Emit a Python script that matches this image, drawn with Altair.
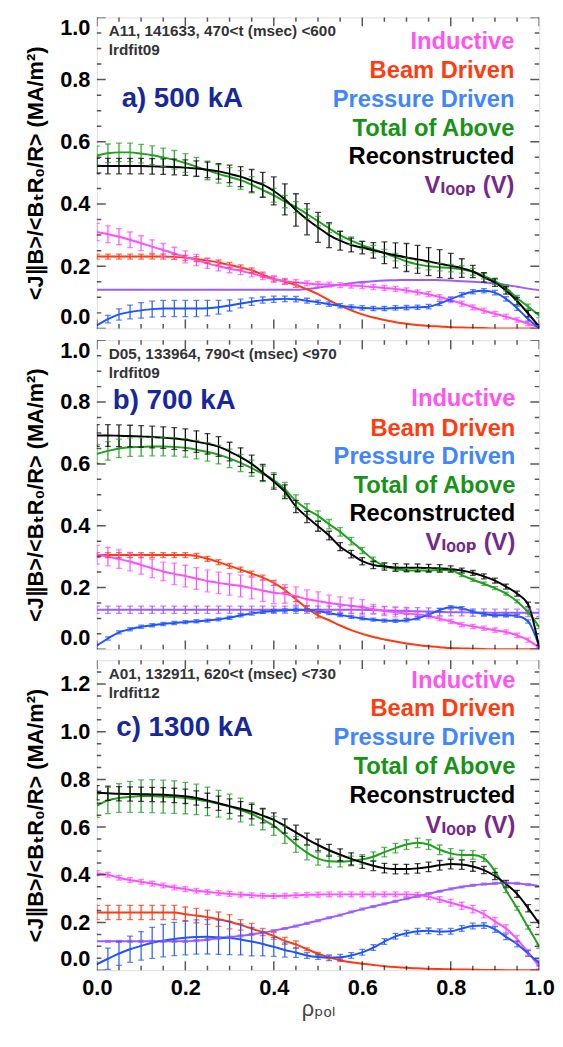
import altair as alt
import pandas as pd

FONT = "Liberation Sans, Arial, Helvetica, DejaVu Sans, sans-serif"

rho = [0.000, 0.025, 0.050, 0.075, 0.100, 0.125, 0.150, 0.175, 0.200, 0.225,
       0.250, 0.275, 0.300, 0.325, 0.350, 0.375, 0.400, 0.425, 0.450, 0.475,
       0.500, 0.525, 0.550, 0.575, 0.600, 0.625, 0.650, 0.675, 0.700, 0.725,
       0.750, 0.775, 0.800, 0.825, 0.850, 0.875, 0.900, 0.925, 0.950, 0.975, 1.000]

# drawing order (last on top)
SERIES = ["Vloop", "Beam Driven", "Inductive", "Pressure Driven", "Total of Above", "Reconstructed"]
LINE_COLORS = ["#9b5cff", "#ff3a12", "#ff4dff", "#1f55ff", "#1fa01f", "#000000"]

LEGEND_LABELS = ["Inductive", "Beam Driven", "Pressure Driven", "Total of Above", "Reconstructed", "Vₗₒₒₚ (V)"]
LEGEND_COLORS = ["#ff55ee", "#ff3c10", "#3f86ff", "#179417", "#000000", "#75298a"]

# ---------------- panel a) 500 kA ----------------
a_ind = [0.310, 0.303, 0.295, 0.285, 0.274, 0.263, 0.252, 0.241, 0.230, 0.220,
         0.209, 0.200, 0.192, 0.185, 0.177, 0.167, 0.158, 0.152, 0.148, 0.145,
         0.142, 0.141, 0.139, 0.138, 0.136, 0.133, 0.130, 0.127, 0.122, 0.116,
         0.110, 0.101, 0.091, 0.080, 0.068, 0.057, 0.047, 0.038, 0.027, 0.015, 0.003]
a_ind_err = [0.028, 0.027, 0.026, 0.025, 0.024, 0.022, 0.021, 0.020, 0.019, 0.018,
             0.016, 0.015, 0.013, 0.012, 0.011, 0.010, 0.010, 0.009, 0.009, 0.008,
             0.008, 0.008, 0.008, 0.008, 0.008, 0.008, 0.008, 0.008, 0.008, 0.008,
             0.008, 0.008, 0.008, 0.008, 0.008, 0.008, 0.008, 0.008, 0.007, 0.006, 0.005]
a_beam = [0.231, 0.231, 0.231, 0.231, 0.231, 0.231, 0.231, 0.230, 0.227, 0.223,
          0.218, 0.212, 0.204, 0.196, 0.187, 0.173, 0.160, 0.150, 0.140, 0.126,
          0.110, 0.091, 0.073, 0.058, 0.045, 0.035, 0.027, 0.020, 0.015, 0.011,
          0.008, 0.006, 0.004, 0.003, 0.002, 0.001, 0.000, 0.000, 0.000, 0.000, 0.000]
a_beam_err = [0.008, 0.008, 0.008, 0.008, 0.008, 0.008, 0.008, 0.008, 0.008, 0.008,
              0.008, 0.008, 0.008, 0.008, 0.008, 0.008, 0.008, 0.008, 0.008, 0.000,
              0.000, 0.000, 0.000, 0.000, 0.000, 0.000, 0.000, 0.000, 0.000, 0.000,
              0.000, 0.000, 0.000, 0.000, 0.000, 0.000, 0.000, 0.000, 0.000, 0.000, 0.000]
a_pres = [0.010, 0.030, 0.045, 0.053, 0.058, 0.062, 0.064, 0.064, 0.064, 0.064,
          0.065, 0.068, 0.074, 0.080, 0.086, 0.091, 0.094, 0.095, 0.094, 0.089,
          0.084, 0.078, 0.073, 0.069, 0.066, 0.064, 0.064, 0.066, 0.067, 0.068,
          0.070, 0.080, 0.094, 0.108, 0.118, 0.121, 0.115, 0.095, 0.065, 0.030, 0.000]
a_pres_err = [0.000, 0.012, 0.018, 0.022, 0.025, 0.026, 0.026, 0.026, 0.026, 0.026,
              0.025, 0.022, 0.018, 0.014, 0.012, 0.010, 0.010, 0.009, 0.009, 0.008,
              0.007, 0.007, 0.007, 0.007, 0.007, 0.007, 0.007, 0.007, 0.007, 0.007,
              0.007, 0.007, 0.007, 0.007, 0.007, 0.007, 0.007, 0.007, 0.007, 0.007, 0.007]
a_tot = [0.556, 0.563, 0.566, 0.566, 0.562, 0.557, 0.550, 0.542, 0.532, 0.520,
         0.508, 0.497, 0.487, 0.477, 0.462, 0.445, 0.428, 0.408, 0.390, 0.368,
         0.345, 0.322, 0.300, 0.282, 0.268, 0.255, 0.242, 0.229, 0.215, 0.206,
         0.200, 0.197, 0.194, 0.190, 0.182, 0.169, 0.152, 0.130, 0.098, 0.070, 0.042]
a_tot_err = [0.030, 0.030, 0.030, 0.030, 0.030, 0.030, 0.030, 0.030, 0.030, 0.030,
             0.030, 0.030, 0.030, 0.030, 0.026, 0.024, 0.022, 0.020, 0.018, 0.016,
             0.015, 0.014, 0.013, 0.012, 0.012, 0.012, 0.012, 0.012, 0.012, 0.012,
             0.012, 0.012, 0.012, 0.012, 0.011, 0.010, 0.010, 0.009, 0.008, 0.008, 0.008]
a_rec = [0.522, 0.522, 0.522, 0.522, 0.522, 0.521, 0.520, 0.519, 0.517, 0.514,
         0.510, 0.505, 0.497, 0.488, 0.475, 0.462, 0.442, 0.415, 0.381, 0.351,
         0.325, 0.300, 0.282, 0.268, 0.260, 0.251, 0.243, 0.235, 0.228, 0.222,
         0.215, 0.208, 0.201, 0.194, 0.183, 0.164, 0.147, 0.122, 0.088, 0.048, 0.005]
a_rec_err = [0.025, 0.025, 0.025, 0.025, 0.025, 0.025, 0.025, 0.025, 0.025, 0.025,
             0.025, 0.025, 0.028, 0.032, 0.036, 0.040, 0.045, 0.050, 0.052, 0.050,
             0.048, 0.040, 0.030, 0.022, 0.020, 0.025, 0.035, 0.040, 0.045, 0.045,
             0.045, 0.045, 0.040, 0.030, 0.020, 0.015, 0.012, 0.012, 0.012, 0.010, 0.008]
a_vloop = [0.124, 0.124, 0.124, 0.124, 0.124, 0.124, 0.124, 0.124, 0.124, 0.124,
           0.124, 0.124, 0.124, 0.124, 0.124, 0.124, 0.124, 0.124, 0.124, 0.127,
           0.131, 0.136, 0.140, 0.145, 0.149, 0.152, 0.154, 0.155, 0.156, 0.156,
           0.156, 0.155, 0.154, 0.152, 0.150, 0.148, 0.145, 0.140, 0.134, 0.128, 0.123]
a_vloop_err = [0.000, 0.000, 0.000, 0.000, 0.000, 0.000, 0.000, 0.000, 0.000, 0.000,
               0.000, 0.000, 0.000, 0.000, 0.000, 0.000, 0.000, 0.000, 0.000, 0.000,
               0.000, 0.000, 0.000, 0.000, 0.000, 0.000, 0.000, 0.000, 0.000, 0.000,
               0.000, 0.000, 0.000, 0.000, 0.000, 0.000, 0.000, 0.000, 0.000, 0.000, 0.000]

# ---------------- panel b) 700 kA ----------------
b_ind = [0.306, 0.300, 0.292, 0.284, 0.273, 0.262, 0.252, 0.244, 0.237, 0.229,
         0.221, 0.215, 0.210, 0.205, 0.198, 0.190, 0.183, 0.179, 0.172, 0.162,
         0.156, 0.150, 0.145, 0.141, 0.136, 0.130, 0.124, 0.120, 0.116, 0.113,
         0.108, 0.099, 0.090, 0.080, 0.074, 0.068, 0.062, 0.056, 0.045, 0.030, 0.005]
b_ind_err = [0.030, 0.030, 0.030, 0.030, 0.030, 0.030, 0.030, 0.035, 0.035, 0.035,
             0.035, 0.035, 0.035, 0.035, 0.035, 0.035, 0.035, 0.030, 0.030, 0.030,
             0.030, 0.025, 0.025, 0.025, 0.025, 0.015, 0.015, 0.015, 0.015, 0.007,
             0.007, 0.007, 0.007, 0.007, 0.007, 0.007, 0.007, 0.007, 0.007, 0.007, 0.007]
b_beam = [0.305, 0.305, 0.305, 0.305, 0.305, 0.305, 0.305, 0.305, 0.305, 0.302,
          0.293, 0.282, 0.270, 0.258, 0.245, 0.232, 0.215, 0.192, 0.162, 0.133,
          0.110, 0.094, 0.077, 0.062, 0.050, 0.040, 0.032, 0.025, 0.019, 0.014,
          0.010, 0.007, 0.004, 0.003, 0.002, 0.001, 0.000, 0.000, 0.000, 0.000, 0.000]
b_beam_err = [0.008, 0.008, 0.008, 0.008, 0.008, 0.008, 0.008, 0.008, 0.008, 0.008,
              0.008, 0.008, 0.008, 0.008, 0.008, 0.008, 0.008, 0.008, 0.008, 0.008,
              0.008, 0.000, 0.000, 0.000, 0.000, 0.000, 0.000, 0.000, 0.000, 0.000,
              0.000, 0.000, 0.000, 0.000, 0.000, 0.000, 0.000, 0.000, 0.000, 0.000, 0.000]
b_pres = [0.012, 0.035, 0.055, 0.065, 0.073, 0.078, 0.082, 0.085, 0.088, 0.091,
          0.093, 0.097, 0.102, 0.110, 0.116, 0.121, 0.124, 0.126, 0.128, 0.127,
          0.124, 0.117, 0.111, 0.105, 0.100, 0.096, 0.093, 0.092, 0.094, 0.100,
          0.112, 0.127, 0.136, 0.133, 0.122, 0.114, 0.110, 0.110, 0.108, 0.090, 0.010]
b_pres_err = [0.000, 0.005, 0.005, 0.005, 0.005, 0.005, 0.005, 0.005, 0.005, 0.005,
              0.005, 0.005, 0.005, 0.005, 0.005, 0.005, 0.005, 0.005, 0.005, 0.005,
              0.005, 0.005, 0.005, 0.005, 0.005, 0.005, 0.005, 0.005, 0.005, 0.005,
              0.005, 0.005, 0.005, 0.005, 0.005, 0.005, 0.005, 0.005, 0.005, 0.005, 0.005]
b_tot = [0.632, 0.642, 0.650, 0.654, 0.655, 0.656, 0.656, 0.655, 0.652, 0.646,
         0.639, 0.630, 0.618, 0.603, 0.586, 0.568, 0.548, 0.518, 0.480, 0.453,
         0.432, 0.405, 0.380, 0.350, 0.320, 0.290, 0.270, 0.260, 0.256, 0.255,
         0.255, 0.257, 0.256, 0.240, 0.225, 0.212, 0.198, 0.180, 0.155, 0.120, 0.072]
b_tot_err = [0.030, 0.030, 0.030, 0.030, 0.030, 0.030, 0.030, 0.030, 0.030, 0.030,
             0.030, 0.030, 0.030, 0.028, 0.026, 0.025, 0.024, 0.022, 0.020, 0.018,
             0.016, 0.015, 0.014, 0.012, 0.010, 0.008, 0.008, 0.008, 0.006, 0.006,
             0.006, 0.006, 0.005, 0.005, 0.005, 0.005, 0.005, 0.005, 0.005, 0.005, 0.005]
b_rec = [0.692, 0.692, 0.691, 0.690, 0.689, 0.687, 0.685, 0.682, 0.678, 0.672,
         0.665, 0.656, 0.640, 0.622, 0.600, 0.572, 0.542, 0.510, 0.462, 0.428,
         0.398, 0.368, 0.332, 0.308, 0.285, 0.273, 0.268, 0.265, 0.264, 0.264,
         0.263, 0.262, 0.260, 0.255, 0.247, 0.236, 0.222, 0.203, 0.180, 0.145, 0.005]
b_rec_err = [0.035, 0.035, 0.035, 0.035, 0.035, 0.035, 0.035, 0.035, 0.035, 0.035,
             0.033, 0.032, 0.030, 0.030, 0.028, 0.026, 0.024, 0.022, 0.020, 0.018,
             0.016, 0.014, 0.013, 0.012, 0.012, 0.012, 0.012, 0.012, 0.012, 0.012,
             0.012, 0.012, 0.010, 0.008, 0.008, 0.008, 0.008, 0.008, 0.008, 0.008, 0.008]
b_vloop = [0.128, 0.128, 0.128, 0.128, 0.128, 0.128, 0.128, 0.128, 0.128, 0.128,
           0.128, 0.128, 0.128, 0.128, 0.128, 0.128, 0.128, 0.128, 0.128, 0.128,
           0.128, 0.128, 0.128, 0.128, 0.128, 0.127, 0.126, 0.125, 0.124, 0.123,
           0.122, 0.121, 0.120, 0.120, 0.119, 0.119, 0.118, 0.118, 0.118, 0.118, 0.118]
b_vloop_err = [0.012, 0.012, 0.012, 0.012, 0.012, 0.012, 0.012, 0.012, 0.012, 0.012,
               0.012, 0.012, 0.012, 0.012, 0.012, 0.012, 0.012, 0.012, 0.012, 0.012,
               0.012, 0.012, 0.012, 0.012, 0.012, 0.012, 0.012, 0.012, 0.012, 0.012,
               0.012, 0.012, 0.012, 0.012, 0.012, 0.012, 0.012, 0.012, 0.012, 0.012, 0.012]

# ---------------- panel c) 1300 kA ----------------
c_ind = [0.407, 0.400, 0.388, 0.378, 0.371, 0.363, 0.355, 0.347, 0.340, 0.333,
         0.328, 0.324, 0.320, 0.317, 0.314, 0.312, 0.311, 0.312, 0.314, 0.316,
         0.317, 0.318, 0.318, 0.318, 0.318, 0.318, 0.318, 0.318, 0.318, 0.316,
         0.308, 0.296, 0.283, 0.270, 0.256, 0.235, 0.205, 0.175, 0.130, 0.075, 0.015]
c_ind_err = [0.010, 0.010, 0.010, 0.010, 0.010, 0.010, 0.010, 0.010, 0.010, 0.010,
             0.010, 0.010, 0.010, 0.010, 0.010, 0.010, 0.010, 0.010, 0.010, 0.010,
             0.010, 0.010, 0.010, 0.010, 0.010, 0.010, 0.010, 0.010, 0.010, 0.010,
             0.012, 0.012, 0.014, 0.015, 0.016, 0.016, 0.016, 0.016, 0.015, 0.012, 0.010]
c_beam = [0.242, 0.242, 0.242, 0.242, 0.242, 0.242, 0.242, 0.242, 0.235, 0.229,
          0.222, 0.214, 0.203, 0.190, 0.174, 0.160, 0.144, 0.123, 0.108, 0.088,
          0.069, 0.054, 0.042, 0.033, 0.027, 0.022, 0.017, 0.013, 0.010, 0.008,
          0.006, 0.005, 0.004, 0.003, 0.002, 0.001, 0.001, 0.000, 0.000, 0.000, 0.000]
c_beam_err = [0.030, 0.030, 0.030, 0.030, 0.030, 0.030, 0.030, 0.030, 0.030, 0.030,
              0.030, 0.030, 0.030, 0.022, 0.022, 0.015, 0.015, 0.015, 0.015, 0.006,
              0.006, 0.006, 0.006, 0.000, 0.000, 0.000, 0.000, 0.000, 0.000, 0.000,
              0.000, 0.000, 0.000, 0.000, 0.000, 0.000, 0.000, 0.000, 0.000, 0.000, 0.000]
c_pres = [0.025, 0.048, 0.070, 0.088, 0.102, 0.115, 0.124, 0.131, 0.136, 0.139,
          0.140, 0.138, 0.135, 0.129, 0.120, 0.110, 0.098, 0.085, 0.074, 0.062,
          0.055, 0.052, 0.054, 0.062, 0.075, 0.095, 0.120, 0.142, 0.155, 0.163,
          0.165, 0.161, 0.163, 0.175, 0.185, 0.187, 0.171, 0.140, 0.110, 0.070, 0.030]
c_pres_err = [0.000, 0.045, 0.050, 0.055, 0.060, 0.065, 0.068, 0.070, 0.072, 0.072,
              0.072, 0.072, 0.070, 0.065, 0.060, 0.050, 0.040, 0.030, 0.020, 0.012,
              0.010, 0.012, 0.012, 0.012, 0.012, 0.012, 0.012, 0.012, 0.012, 0.012,
              0.012, 0.012, 0.012, 0.012, 0.012, 0.012, 0.012, 0.012, 0.012, 0.012, 0.012]
c_tot = [0.689, 0.712, 0.722, 0.727, 0.730, 0.730, 0.728, 0.726, 0.722, 0.716,
         0.708, 0.698, 0.686, 0.672, 0.655, 0.632, 0.605, 0.568, 0.527, 0.493,
         0.468, 0.457, 0.455, 0.458, 0.465, 0.476, 0.495, 0.512, 0.527, 0.534,
         0.527, 0.505, 0.490, 0.483, 0.483, 0.470, 0.415, 0.335, 0.260, 0.180, 0.100]
c_tot_err = [0.048, 0.055, 0.060, 0.065, 0.068, 0.069, 0.069, 0.068, 0.066, 0.064,
             0.060, 0.056, 0.052, 0.050, 0.047, 0.043, 0.040, 0.036, 0.033, 0.030,
             0.027, 0.025, 0.022, 0.020, 0.020, 0.020, 0.020, 0.020, 0.020, 0.020,
             0.020, 0.020, 0.020, 0.020, 0.018, 0.015, 0.012, 0.010, 0.008, 0.008, 0.008]
c_rec = [0.744, 0.742, 0.740, 0.739, 0.738, 0.737, 0.736, 0.733, 0.729, 0.722,
         0.712, 0.700, 0.688, 0.677, 0.665, 0.648, 0.630, 0.605, 0.578, 0.550,
         0.525, 0.503, 0.484, 0.467, 0.452, 0.438, 0.428, 0.424, 0.424, 0.427,
         0.433, 0.440, 0.445, 0.443, 0.435, 0.420, 0.395, 0.362, 0.320, 0.260, 0.195]
c_rec_err = [0.030, 0.030, 0.030, 0.030, 0.030, 0.030, 0.030, 0.030, 0.030, 0.030,
             0.030, 0.030, 0.030, 0.030, 0.030, 0.030, 0.030, 0.030, 0.030, 0.025,
             0.025, 0.025, 0.025, 0.025, 0.025, 0.020, 0.020, 0.020, 0.020, 0.020,
             0.020, 0.020, 0.020, 0.020, 0.020, 0.015, 0.015, 0.015, 0.015, 0.015, 0.015]
c_vloop = [0.121, 0.121, 0.121, 0.121, 0.121, 0.121, 0.121, 0.121, 0.121, 0.124,
           0.128, 0.134, 0.139, 0.144, 0.150, 0.157, 0.166, 0.175, 0.185, 0.196,
           0.208, 0.220, 0.231, 0.244, 0.256, 0.267, 0.278, 0.289, 0.300, 0.310,
           0.321, 0.331, 0.341, 0.349, 0.356, 0.361, 0.364, 0.366, 0.364, 0.359, 0.353]
c_vloop_err = [0.000, 0.004, 0.004, 0.004, 0.004, 0.004, 0.004, 0.004, 0.004, 0.004,
               0.004, 0.004, 0.004, 0.004, 0.004, 0.004, 0.004, 0.004, 0.004, 0.004,
               0.004, 0.004, 0.004, 0.004, 0.004, 0.004, 0.004, 0.004, 0.004, 0.004,
               0.004, 0.004, 0.004, 0.004, 0.004, 0.004, 0.004, 0.004, 0.004, 0.004, 0.000]

# axis tick values
x_major = [0.0, 0.2, 0.4, 0.6, 0.8, 1.0]
x_minor = [0.05, 0.1, 0.15, 0.25, 0.3, 0.35, 0.45, 0.5, 0.55, 0.65, 0.7, 0.75, 0.85, 0.9, 0.95]
y_major_ab = [0.0, 0.2, 0.4, 0.6, 0.8, 1.0]
y_minor_ab = [0.05, 0.1, 0.15, 0.25, 0.3, 0.35, 0.45, 0.5, 0.55, 0.65, 0.7, 0.75, 0.85, 0.9, 0.95]
y_major_c = [0.0, 0.2, 0.4, 0.6, 0.8, 1.0, 1.2]
y_minor_c = [0.05, 0.1, 0.15, 0.25, 0.3, 0.35, 0.45, 0.5, 0.55, 0.65, 0.7, 0.75, 0.85, 0.9, 0.95,
             1.05, 1.1, 1.15, 1.25]

Y_TITLE = "<J∥B>/<BₜR₀/R> (MA/m²)"
X_TITLE = "ρₚₒₗ"

PANELS = [
    dict(
        vals={"Inductive": a_ind, "Beam Driven": a_beam, "Pressure Driven": a_pres,
              "Total of Above": a_tot, "Reconstructed": a_rec, "Vloop": a_vloop},
        errs={"Inductive": a_ind_err, "Beam Driven": a_beam_err, "Pressure Driven": a_pres_err,
              "Total of Above": a_tot_err, "Reconstructed": a_rec_err, "Vloop": a_vloop_err},
        ymax=1.0, ymajor=y_major_ab, yminor=y_minor_ab, height=315,
        info=["A11, 141633, 470<t (msec) <600", "lrdfit09"], info_y=[0.956, 0.896],
        label="a) 500 kA", label_xy=(0.056, 0.738),
        legend_x=0.944, legend_y=[0.921, 0.826, 0.735, 0.640, 0.552, 0.457],
    ),
    dict(
        vals={"Inductive": b_ind, "Beam Driven": b_beam, "Pressure Driven": b_pres,
              "Total of Above": b_tot, "Reconstructed": b_rec, "Vloop": b_vloop},
        errs={"Inductive": b_ind_err, "Beam Driven": b_beam_err, "Pressure Driven": b_pres_err,
              "Total of Above": b_tot_err, "Reconstructed": b_rec_err, "Vloop": b_vloop_err},
        ymax=1.0, ymajor=y_major_ab, yminor=y_minor_ab, height=313,
        info=["D05, 133964, 790<t (msec) <970", "lrdfit09"], info_y=[0.956, 0.895],
        label="b) 700 kA", label_xy=(0.036, 0.803),
        legend_x=0.946, legend_y=[0.810, 0.714, 0.622, 0.527, 0.438, 0.343],
    ),
    dict(
        vals={"Inductive": c_ind, "Beam Driven": c_beam, "Pressure Driven": c_pres,
              "Total of Above": c_tot, "Reconstructed": c_rec, "Vloop": c_vloop},
        errs={"Inductive": c_ind_err, "Beam Driven": c_beam_err, "Pressure Driven": c_pres_err,
              "Total of Above": c_tot_err, "Reconstructed": c_rec_err, "Vloop": c_vloop_err},
        ymax=1.3, ymajor=y_major_c, yminor=y_minor_c, height=314,
        info=["A01, 132911, 620<t (msec) <730", "lrdfit12"], info_y=[1.242, 1.164],
        label="c) 1300 kA", label_xy=(0.044, 1.015),
        legend_x=0.946, legend_y=[1.213, 1.094, 0.974, 0.850, 0.730, 0.603],
    ),
]

WIDTH = 448


def make_panel(p, show_x):
    rows = []
    for s in SERIES:
        for xv, yv, ev in zip(rho, p["vals"][s], p["errs"][s]):
            rows.append({"series": s, "x": xv, "y": yv, "err": ev,
                         "lo": yv - ev, "hi": yv + ev})
    df = pd.DataFrame(rows)
    df_err = df[df["err"] > 0]

    xs = alt.Scale(domain=[0, 1], nice=False, zero=False)
    ys = alt.Scale(domain=[0, p["ymax"]], nice=False, zero=False)
    color = alt.Color("series:N", scale=alt.Scale(domain=SERIES, range=LINE_COLORS), legend=None)

    if show_x:
        xaxis = alt.Axis(values=x_major, format=".1f", ticks=False, domain=False, grid=False,
                         labelFont=FONT, labelFontSize=22, labelFontWeight="bold", labelColor="black",
                         labelPadding=8, labelFlush=False,
                         title=X_TITLE, titleFont=FONT, titleFontSize=22, titleFontWeight="normal",
                         titleColor="#444444", titlePadding=0)
    else:
        xaxis = None
    yaxis = alt.Axis(values=p["ymajor"], format=".1f", ticks=False, domain=False, grid=False,
                     labelFont=FONT, labelFontSize=22, labelFontWeight="bold", labelColor="black",
                     labelPadding=7, labelFlush=True,
                     title=Y_TITLE, titleFont=FONT, titleFontSize=22, titleFontWeight="bold",
                     titleColor="black", titlePadding=12)

    lines = alt.Chart(df).mark_line(strokeWidth=2, interpolate="monotone", clip=True).encode(
        x=alt.X("x:Q", scale=xs, axis=xaxis),
        y=alt.Y("y:Q", scale=ys, axis=yaxis),
        color=color,
    )
    eb = alt.Chart(df_err)
    bars = eb.mark_rule(strokeWidth=1.2, clip=True).encode(
        x=alt.X("x:Q"), y=alt.Y("lo:Q"), y2="hi:Q", color=color)
    cap_lo = eb.mark_tick(orient="horizontal", size=6, thickness=1.3, clip=True).encode(
        x=alt.X("x:Q"), y=alt.Y("lo:Q"), color=color)
    cap_hi = eb.mark_tick(orient="horizontal", size=6, thickness=1.3, clip=True).encode(
        x=alt.X("x:Q"), y=alt.Y("hi:Q"), color=color)

    layers = [lines, bars, cap_lo, cap_hi]

    # inward tick marks on all four sides
    for vals, L in ((p["ymajor"], 18), (p["yminor"], 9)):
        for xd in (0.0, 1.0):
            d = pd.DataFrame({"v": vals, "xe": [xd] * len(vals)})
            layers.append(alt.Chart(d).mark_tick(orient="horizontal", size=L, thickness=1.5,
                                                 color="#111111", clip=True).encode(
                x=alt.X("xe:Q"), y=alt.Y("v:Q")))
    for vals, L in ((x_major, 18), (x_minor, 9)):
        for yd in (0.0, p["ymax"]):
            d = pd.DataFrame({"v": vals, "ye": [yd] * len(vals)})
            layers.append(alt.Chart(d).mark_tick(orient="vertical", size=L, thickness=1.5,
                                                 color="#111111", clip=True).encode(
                x=alt.X("v:Q"), y=alt.Y("ye:Q")))

    info_df = pd.DataFrame({"x": [0.027, 0.027], "y": p["info_y"], "t": p["info"]})
    layers.append(alt.Chart(info_df).mark_text(align="left", baseline="middle", font=FONT,
                                               fontSize=15.5, fontWeight="bold", color="#333333").encode(
        x="x:Q", y="y:Q", text="t:N"))

    lab_df = pd.DataFrame({"x": [p["label_xy"][0]], "y": [p["label_xy"][1]], "t": [p["label"]]})
    layers.append(alt.Chart(lab_df).mark_text(align="left", baseline="middle", font=FONT,
                                              fontSize=28, fontWeight="bold", color="#17289a").encode(
        x="x:Q", y="y:Q", text="t:N"))

    for lbl, col, yv in zip(LEGEND_LABELS, LEGEND_COLORS, p["legend_y"]):
        d = pd.DataFrame({"x": [p["legend_x"]], "y": [yv], "t": [lbl]})
        layers.append(alt.Chart(d).mark_text(align="right", baseline="middle", font=FONT,
                                             fontSize=24, fontWeight="bold", color=col).encode(
            x="x:Q", y="y:Q", text="t:N"))

    return alt.layer(*layers).properties(width=WIDTH, height=p["height"])


panels = [make_panel(p, i == 2) for i, p in enumerate(PANELS)]

chart = alt.vconcat(*panels, spacing=9).properties(
    padding={"left": 16, "top": 1, "right": 0, "bottom": 0}
).configure_view(stroke="#111111", strokeWidth=1.5).configure(background="white")

chart.save("out.html", embed_options={"renderer": "svg", "actions": False})
